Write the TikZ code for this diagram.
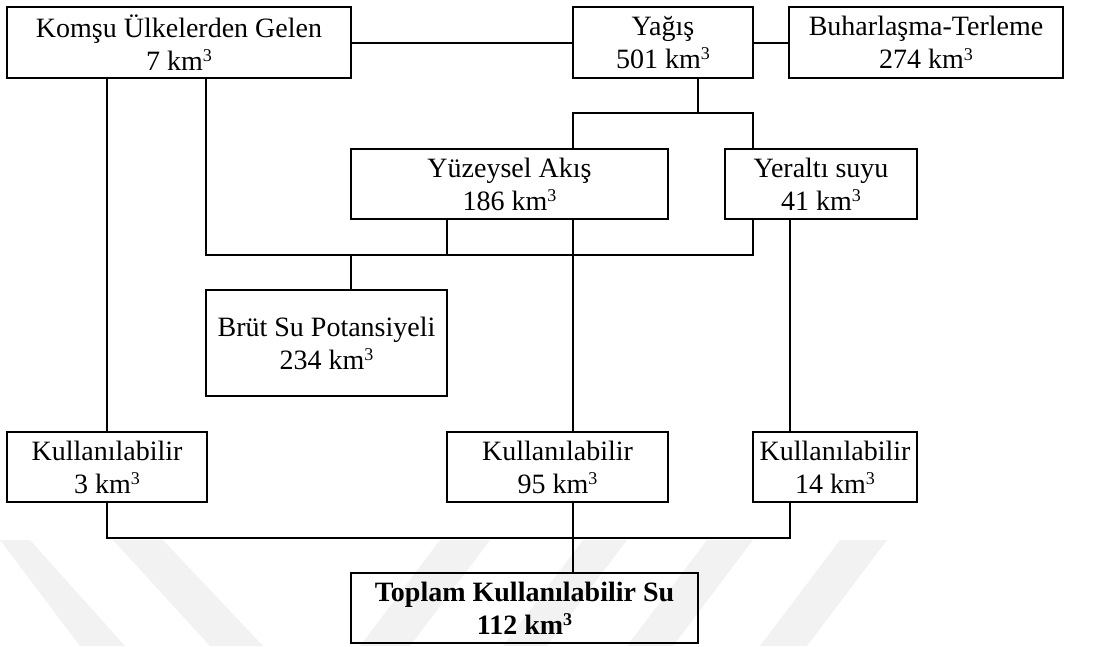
\documentclass[tikz,border=0pt]{standalone}
\usepackage{fontspec}
\setmainfont{Liberation Serif}
\newcommand{\kmcube}{km\raisebox{8.5pt}{\fontsize{18}{18}\selectfont 3}}
\tikzset{
  box/.style={draw, line width=2pt, rectangle, inner sep=0pt, align=center,
    font=\fontsize{28}{33}\selectfont},
  conn/.style={line width=2pt},
  wm/.style={fill=black!5, draw=none}
}
\begin{document}
\begin{tikzpicture}[x=1pt, y=-1pt]
\useasboundingbox (0,0) rectangle (1105,646);
% faint watermark bands
\fill[wm] (0,540) -- (30,540) -- (125,646) -- (80,646) -- cycle;
\fill[wm] (113,540) -- (163,540) -- (263,646) -- (210,646) -- cycle;
\fill[wm] (440,540) -- (490,540) -- (410,646) -- (360,646) -- cycle;
\fill[wm] (583,540) -- (627,540) -- (547,646) -- (503,646) -- cycle;
\fill[wm] (707,540) -- (753,540) -- (673,646) -- (627,646) -- cycle;
\fill[wm] (840,540) -- (887,540) -- (807,646) -- (760,646) -- cycle;
% boxes
\node[box, minimum width=344pt, minimum height=71pt] (komsu) at (179,42.5) {Komşu Ülkelerden Gelen\\7 \kmcube};
\node[box, minimum width=180pt, minimum height=71pt] (yagis) at (663,42.5) {Yağış\\501 \kmcube};
\node[box, minimum width=274pt, minimum height=71pt] (buhar) at (926,42.5) {Buharlaşma-Terleme\\274 \kmcube};
\node[box, minimum width=317pt, minimum height=70pt] (yuz) at (509.5,184) {Yüzeysel Akış\\186 \kmcube};
\node[box, minimum width=192pt, minimum height=70pt] (yer) at (821,184) {Yeraltı suyu\\41 \kmcube};
\node[box, minimum width=241pt, minimum height=106pt] (brut) at (326.5,343) {Brüt Su Potansiyeli\\234 \kmcube};
\node[box, minimum width=200pt, minimum height=70pt] (k3) at (107,467) {Kullanılabilir\\3 \kmcube};
\node[box, minimum width=221pt, minimum height=70pt] (k95) at (557.5,467) {Kullanılabilir\\95 \kmcube};
\node[box, minimum width=164pt, minimum height=70pt] (k14) at (835,467) {Kullanılabilir\\14 \kmcube};
\node[box, minimum width=347pt, minimum height=70pt, font=\fontsize{28}{33}\selectfont\bfseries] (top) at (524.5,608) {Toplam Kullanılabilir Su\\112 \kmcube};
% junction coordinates
\coordinate (c206) at (206,0);
\coordinate (c351) at (351,0);
\coordinate (c447) at (447,0);
\coordinate (c573) at (573,0);
\coordinate (c698) at (698,0);
\coordinate (c753) at (753,0);
\coordinate (c790) at (790,0);
\coordinate (r113) at (0,113);
\coordinate (r255) at (0,255);
\coordinate (r538) at (0,538);
% connectors
\draw[conn] (komsu.east) -- (yagis.west);
\draw[conn] (yagis.east) -- (buhar.west);
\draw[conn] (yagis.south -| c698) -- (c698 |- r113);
\draw[conn] (yuz.north -| c573) |- (r113 -| c698) -| (yer.north -| c753);
\draw[conn] (komsu.south -| c206) |- (r255 -| c447) -| (yer.south -| c753);
\draw[conn] (yuz.south -| c447) -- (c447 |- r255);
\draw[conn] (c351 |- r255) -- (brut.north -| c351);
\draw[conn] (komsu.south -| k3.north) -- (k3.north);
\draw[conn] (yuz.south -| c573) -- (k95.north -| c573);
\draw[conn] (yer.south -| c790) -- (k14.north -| c790);
\draw[conn] (k3.south) |- (r538 -| c573) -| (k14.south -| c790);
\draw[conn] (k95.south -| c573) -- (top.north -| c573);
\end{tikzpicture}
\end{document}
